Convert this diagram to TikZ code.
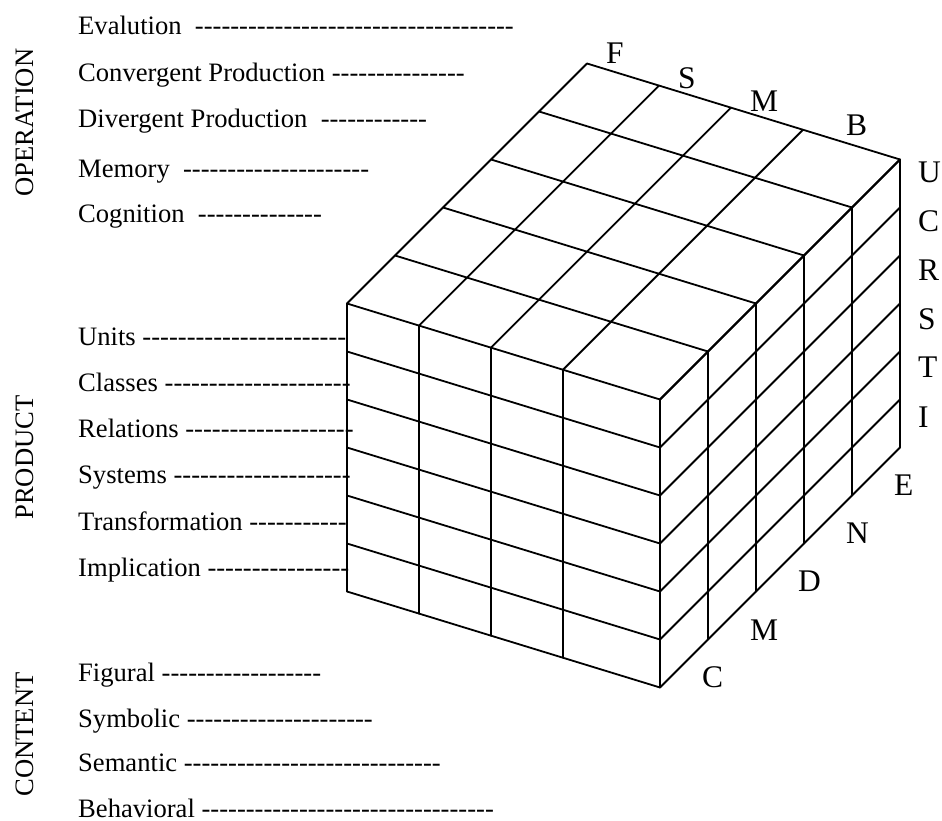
\documentclass[tikz,border=0pt]{standalone}
\usepackage{fontspec}
\setmainfont{Liberation Serif}
\ExplSyntaxOn
\cs_new:Npn \dashrun #1 { \prg_replicate:nn {#1} { -\kern0pt } }
\ExplSyntaxOff
\tikzset{
  lbl/.style={anchor=base west, inner sep=0pt, font=\fontsize{26.6}{30}\selectfont},
  axislbl/.style={anchor=base, inner sep=0pt, rotate=90, font=\fontsize{26.6}{30}\selectfont},
  cubelbl/.style={anchor=base west, inner sep=0pt, font=\fontsize{31.5}{36}\selectfont},
  cubeline/.style={line width=1.8pt, line cap=round, line join=round}
}
\begin{document}
\begin{tikzpicture}[x=1pt,y=-1pt]
\useasboundingbox (0,0) rectangle (942,821);
% rotated axis titles
\node[axislbl] (op) at (33,122.5) {OPERATION};
\node[axislbl] (pr) at (33,457.5) {PRODUCT};
\node[axislbl] (co) at (33,734.5) {CONTENT};
% operation labels
\node[lbl] (ev) at (78,35) {Evalution~~\dashrun{36}};
\node[lbl] (cp) at (78,81.7) {Convergent Production \dashrun{15}};
\node[lbl] (dp) at (78,127.5) {Divergent Production~~\dashrun{12}};
\node[lbl] (me) at (78,177.3) {Memory~~\dashrun{21}};
\node[lbl] (cg) at (78,222.7) {Cognition~~\dashrun{14}};
% product labels
\node[lbl] (un) at (78,345.7) {Units \dashrun{23}};
\node[lbl] (cl) at (78,391.7) {Classes \dashrun{21}};
\node[lbl] (re) at (78,437.7) {Relations \dashrun{19}};
\node[lbl] (sy) at (78,483) {Systems \dashrun{20}};
\node[lbl] (tr) at (78,530) {Transformation \dashrun{11}};
\node[lbl] (im) at (78,576.7) {Implication \dashrun{16}};
% content labels
\node[lbl] (fi) at (78,681.7) {Figural \dashrun{18}};
\node[lbl] (sb) at (78,727) {Symbolic \dashrun{21}};
\node[lbl] (se) at (78,771.7) {Semantic \dashrun{29}};
\node[lbl] (be) at (78,817) {Behavioral \dashrun{33}};
% cube
\begin{scope}[shift={(347,303.5)}, x={(1pt,-0.3067pt)}, y={(0pt,-48pt)}, z={(48pt,48pt)}, cubeline]
  \foreach \h in {0,...,6} \draw (0,\h,0) -- (313,\h,0);
  \foreach \u in {0,72,144,216,313} \draw (\u,0,0) -- (\u,6,0);
  \foreach \v in {1,...,5} \draw (0,0,\v) -- (313,0,\v);
  \foreach \u in {0,72,144,216,313} \draw (\u,0,0) -- (\u,0,5);
  \foreach \h in {0,...,6} \draw (313,\h,0) -- (313,\h,5);
  \foreach \v in {1,...,5} \draw (313,0,\v) -- (313,6,\v);
\end{scope}
% top labels
\node[cubelbl] (tF) at (606,63.3) {F};
\node[cubelbl] (tS) at (678,88.3) {S};
\node[cubelbl] (tM) at (750,111.7) {M};
\node[cubelbl] (tB) at (846,136) {B};
% right labels
\node[cubelbl] (rU) at (918,183) {U};
\node[cubelbl] (rC) at (918,232) {C};
\node[cubelbl] (rR) at (918,280) {R};
\node[cubelbl] (rS) at (918,329) {S};
\node[cubelbl] (rT) at (918,377) {T};
\node[cubelbl] (rI) at (918,427) {I};
% bottom labels
\node[cubelbl] (bE) at (894,495) {E};
\node[cubelbl] (bN) at (846,543) {N};
\node[cubelbl] (bD) at (798,591.5) {D};
\node[cubelbl] (bM) at (750,640) {M};
\node[cubelbl] (bC) at (702,687.3) {C};
\end{tikzpicture}
\end{document}
